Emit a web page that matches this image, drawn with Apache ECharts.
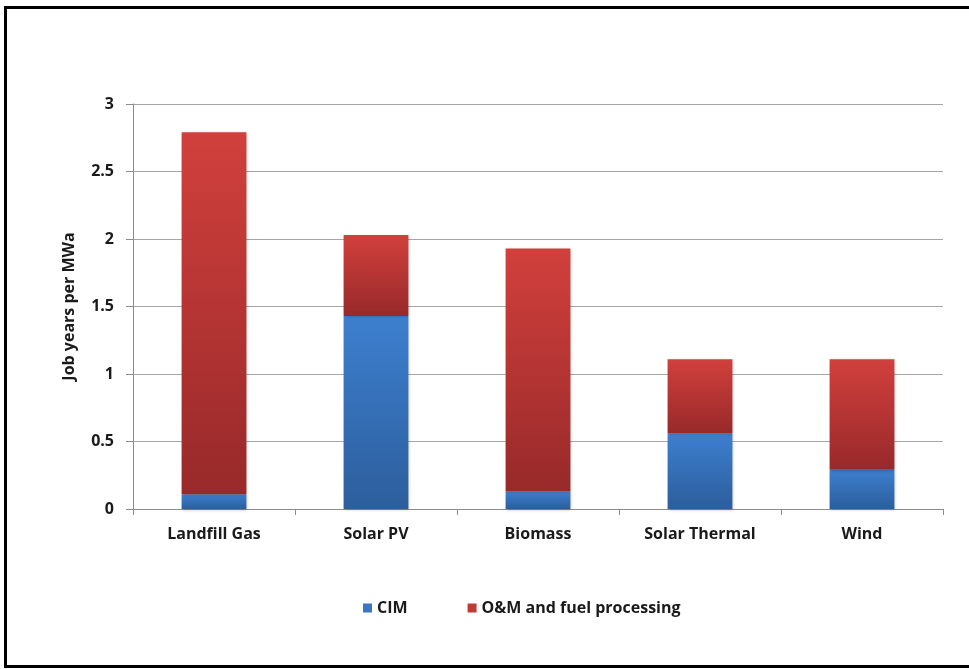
<!DOCTYPE html>
<html>
<head>
<meta charset="utf-8">
<script src="https://cdn.jsdelivr.net/npm/echarts@6/dist/echarts.min.js"></script>
<style>
  html, body { margin: 0; padding: 0; background: #fff; }
  #chart { width: 969px; height: 669px; }
</style>
</head>
<body>
<div id="chart"></div>
<script>
// data
var categories = ["Landfill Gas", "Solar PV", "Biomass", "Solar Thermal", "Wind"];
var cimValues = [0.11, 1.43, 0.13, 0.56, 0.29];
var omValues = [2.68, 0.60, 1.80, 0.55, 0.82];
var yTicks = [0, 0.5, 1, 1.5, 2, 2.5, 3];

var fontFam = "'Open Sans', sans-serif";

function grad(top, bottom) {
	return new echarts.graphic.LinearGradient(0, 0, 0, 1, [
		{ offset: 0, color: top },
		{ offset: 1, color: bottom }
	]);
}

var myChart = echarts.init(document.getElementById("chart"));

myChart.setOption({
	animation: false,
	graphic: [{
		type: "rect",
		shape: { x: 5.5, y: 7.5, width: 975, height: 659 },
		style: { fill: "none", stroke: "#000", lineWidth: 3 },
		silent: true
	}],
	grid: { left: 133, right: 26, top: 104, bottom: 160 },
	legend: {
		bottom: 48,
		left: 358,
		itemWidth: 9,
		itemHeight: 9,
		itemGap: 60,
		icon: "rect",
		textStyle: { fontFamily: fontFam, fontSize: 16, fontWeight: "bold", color: "#1a1a1a" },
		data: [
			{ name: "CIM", itemStyle: { color: "#3a76c2" } },
			{ name: "O&M and fuel processing", itemStyle: { color: "#c03a36" } }
		]
	},
	xAxis: {
		type: "category",
		data: categories,
		axisLine: { lineStyle: { color: "#8c8c8c", width: 1 } },
		axisTick: { show: true, length: 6, lineStyle: { color: "#8c8c8c" } },
		axisLabel: { fontFamily: fontFam, fontSize: 16, fontWeight: "bold", color: "#1a1a1a", margin: 17 }
	},
	yAxis: {
		type: "value",
		min: 0,
		max: yTicks[yTicks.length - 1],
		interval: 0.5,
		name: "Job years per MWa",
		nameLocation: "middle",
		nameGap: 56,
		nameTextStyle: { fontFamily: fontFam, fontSize: 16, fontWeight: "bold", color: "#1a1a1a" },
		axisLine: { show: true, lineStyle: { color: "#8c8c8c" } },
		axisTick: { show: true, length: 7, lineStyle: { color: "#8c8c8c" } },
		splitLine: { lineStyle: { color: "#a6a6a6", width: 1 } },
		axisLabel: { fontFamily: fontFam, fontSize: 16, fontWeight: "bold", color: "#1a1a1a", margin: 19 }
	},
	series: [
		{
			name: "CIM",
			type: "bar",
			stack: "jobs",
			barWidth: "40%",
			data: cimValues,
			itemStyle: {
				color: grad("#3d7fcf", "#2c5e9c"),
				shadowColor: "rgba(0,0,0,0.25)",
				shadowBlur: 3,
				shadowOffsetX: 1,
				shadowOffsetY: 1
			}
		},
		{
			name: "O&M and fuel processing",
			type: "bar",
			stack: "jobs",
			barWidth: "40%",
			data: omValues,
			itemStyle: {
				color: grad("#d1403c", "#98292a"),
				shadowColor: "rgba(0,0,0,0.25)",
				shadowBlur: 3,
				shadowOffsetX: 1,
				shadowOffsetY: 1
			}
		}
	]
});
</script>
</body>
</html>
